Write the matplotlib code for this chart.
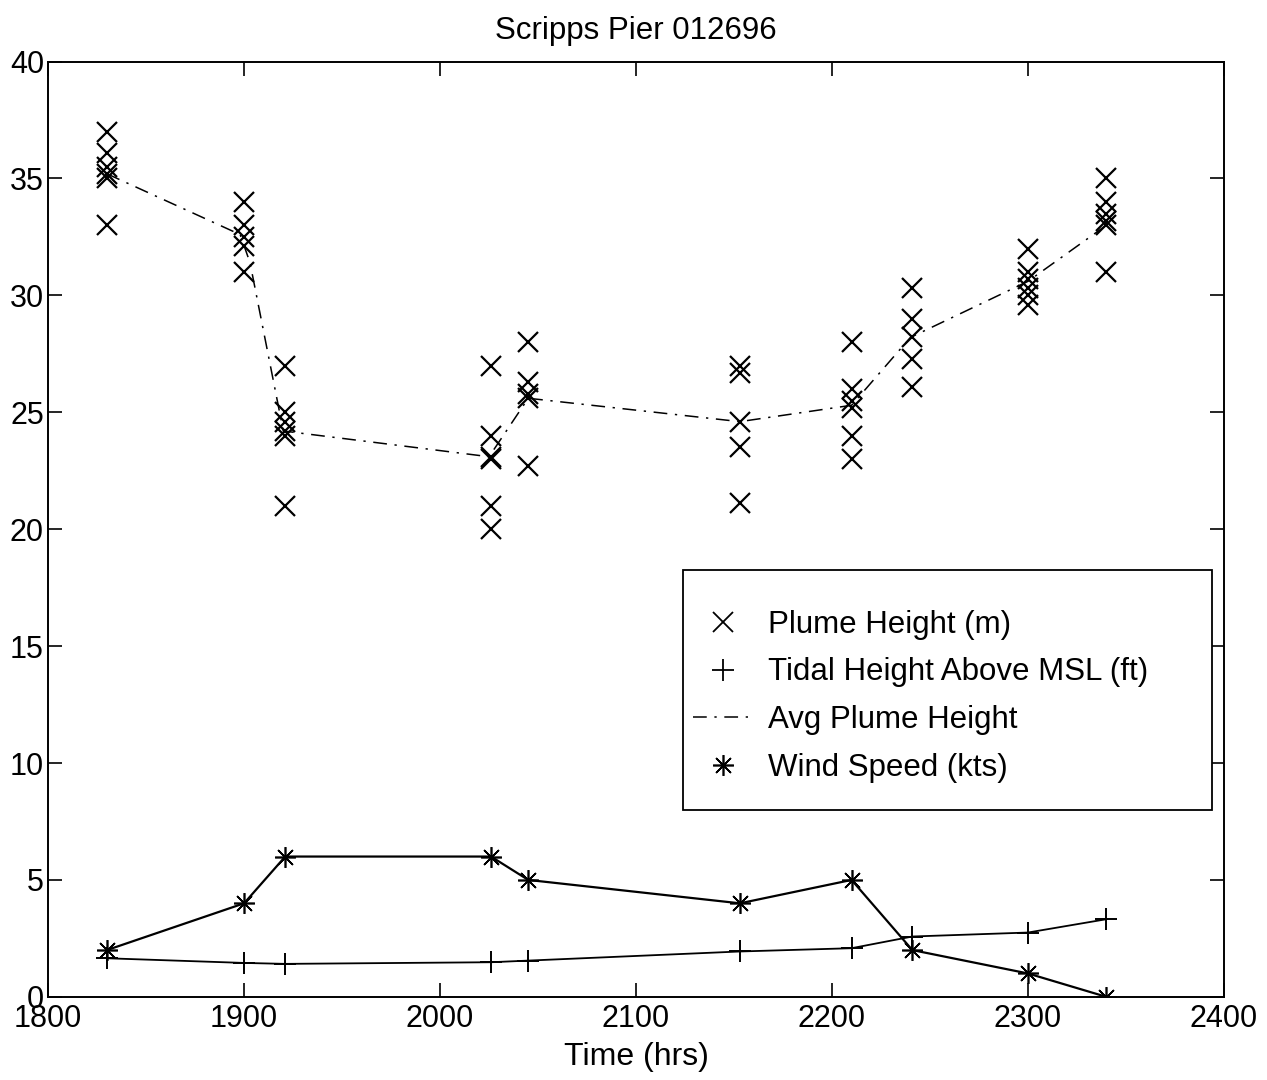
import matplotlib
matplotlib.use('Agg')
import matplotlib.pyplot as plt
from matplotlib.lines import Line2D
from matplotlib.patches import Rectangle

plt.rcParams['font.family'] = ['Liberation Sans', 'DejaVu Sans']

# times of each observation (hhmm)
times = [1830, 1900, 1921, 2026, 2045, 2153, 2210, 2241, 2300, 2340]

# plume heights (m), several per time
plume_t = ([1830] * 6 + [1900] * 5 + [1921] * 6 + [2026] * 6 + [2045] * 5
           + [2153] * 5 + [2210] * 6 + [2241] * 5 + [2300] * 6 + [2340] * 6)
plume_h = [37.0, 36.1, 35.5, 35.2, 35.0, 33.0,
           34.0, 33.0, 32.5, 32.1, 31.0,
           27.0, 25.0, 24.6, 24.2, 24.0, 21.0,
           27.0, 24.0, 23.1, 23.0, 21.0, 20.0,
           28.0, 26.3, 25.8, 25.6, 22.7,
           27.0, 26.7, 24.6, 23.5, 21.1,
           28.0, 26.0, 25.5, 25.2, 24.0, 23.0,
           30.3, 29.0, 28.2, 27.3, 26.1,
           32.0, 31.0, 30.7, 30.3, 30.0, 29.6,
           35.0, 34.0, 33.5, 33.2, 33.0, 31.0]

# average plume height line
avg_t = [1830, 1898, 1903, 1920, 2025, 2045, 2153, 2210, 2240, 2300, 2340]
avg_h = [35.2, 32.6, 31.4, 24.2, 23.1, 25.6, 24.6, 25.3, 28.2, 30.6, 33.0]

tide = [1.65, 1.45, 1.41, 1.48, 1.55, 1.94, 2.08, 2.58, 2.75, 3.32]
wind = [2, 4, 6, 6, 5, 4, 5, 2, 1, 0]

labels = ['Plume Height (m)', 'Tidal Height Above MSL (ft)',
          'Avg Plume Height', 'Wind Speed (kts)']

fig = plt.figure(figsize=(12.67, 10.8), dpi=100)
ax = fig.add_axes([0.038, 0.077, 0.928, 0.866])

star = (8, 2, 0)
dashdot = (0, (9, 5, 1.5, 5))

ax.plot(plume_t, plume_h, linestyle='none', marker='x', color='black',
        markersize=15, markeredgewidth=1.6)
ax.plot(times, tide, '-', marker='+', color='black', linewidth=1.3,
        markersize=16, markeredgewidth=1.4)
ax.plot(avg_t, avg_h, color='black', linewidth=1.1, linestyle=dashdot)
ax.plot(times, wind, '-', marker=star, color='black', linewidth=1.6,
        markersize=15, markeredgewidth=1.2)

ax.set_xlim(1800, 2400)
ax.set_ylim(0, 40)
ax.set_xticks(range(1800, 2401, 100))
ax.set_yticks(range(0, 41, 5))
ax.tick_params(direction='in', length=10, width=1.2, top=True, right=True,
               labelsize=22, pad=5)
ax.tick_params(axis='y', pad=3)
for s in ax.spines.values():
    s.set_linewidth(1.4)

ax.set_xlabel('Time (hrs)', fontsize=23, labelpad=6)
ax.set_title('Scripps Pier 012696', fontsize=22.5, pad=16)

# legend box drawn separately (MATLAB-style spacing)
ax.add_patch(Rectangle((0.54, 0.2), 0.45, 0.2567, transform=ax.transAxes,
                       fill=True, facecolor='white', edgecolor='black',
                       linewidth=1.3, zorder=5))
handles = [Line2D([], [], linestyle='none', marker='x', color='black',
                  markersize=15, markeredgewidth=1.3),
           Line2D([], [], linestyle='none', marker='+', color='black',
                  markersize=16, markeredgewidth=1.3),
           Line2D([], [], linestyle=dashdot, color='black', linewidth=1.1),
           Line2D([], [], linestyle='none', marker=star, color='black',
                  markersize=15, markeredgewidth=1.2)]
leg = ax.legend(handles, labels, loc='upper left',
                bbox_to_anchor=(0.5485, 0.414), fontsize=22.5, frameon=False,
                borderpad=0, borderaxespad=0, labelspacing=0.57,
                handlelength=1.9, handletextpad=0.5)
leg.set_zorder(6)

fig.savefig('out.png', dpi=100)
